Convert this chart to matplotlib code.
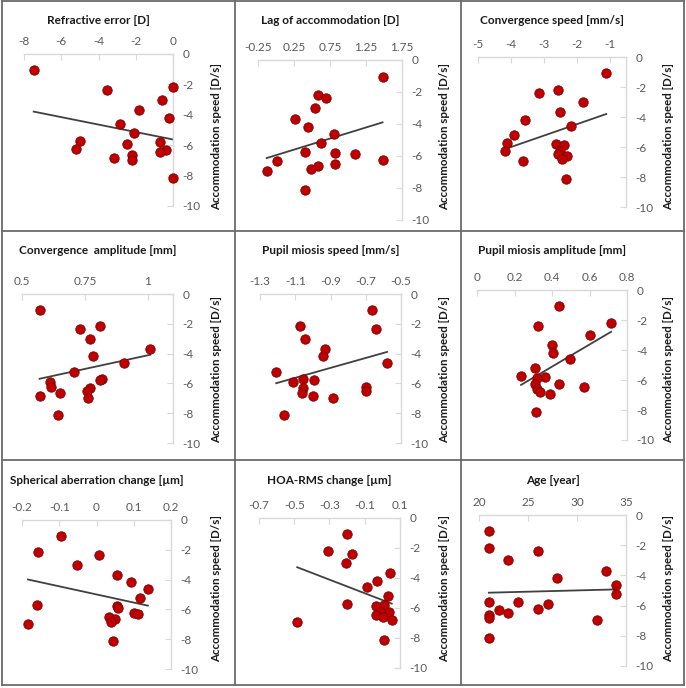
import numpy as np
import matplotlib
matplotlib.use("Agg")
import matplotlib.pyplot as plt
from matplotlib.lines import Line2D

plt.rcParams['font.family'] = ['Lato', 'DejaVu Sans']
plt.rcParams['axes.unicode_minus'] = False

W, H = 686, 688

# accommodation speed per subject [D/s], same order in every panel
speed = [-1.08, -2.17, -2.37, -3.00, -3.69, -4.18, -4.63, -5.21, -5.73,
         -5.79, -5.89, -6.25, -6.29, -6.48, -6.62, -6.82, -6.95, -8.13]

refractive_error = [-7.48, 0.0, -3.52, -0.57, -1.84, -0.20, -2.84, -2.09, -4.97,
                    -0.68, -2.49, -5.22, -0.38, -0.72, -2.22, -3.17, -2.22, 0.02]
lag_accommodation = [1.48, 0.58, 0.70, 0.54, 0.26, 0.44, 0.80, 0.62, 0.40,
                     0.82, 1.10, 1.48, 0.02, 0.82, 0.59, 0.48, -0.13, 0.40]
convergence_speed = [-1.10, -2.56, -3.15, -1.81, -2.52, -3.57, -2.17, -3.90, -4.12,
                     -2.62, -2.39, -4.19, -2.52, -2.58, -2.29, -2.46, -3.64, -2.32]
convergence_amplitude = [0.570, 0.810, 0.731, 0.772, 1.009, 0.784, 0.907, 0.708, 0.817,
                         0.808, 0.610, 0.614, 0.769, 0.758, 0.651, 0.573, 0.761, 0.643]
miosis_speed = [-0.664, -1.075, -0.640, -1.043, -0.930, -0.945, -0.579, -1.208, -1.055,
                -0.996, -1.113, -0.698, -1.055, -0.698, -1.062, -1.000, -0.883, -1.162]
miosis_amplitude = [0.439, 0.715, 0.326, 0.605, 0.402, 0.405, 0.496, 0.310, 0.235,
                    0.361, 0.322, 0.437, 0.308, 0.572, 0.319, 0.336, 0.391, 0.315]
sa_change = [-0.095, -0.158, 0.007, -0.052, 0.054, 0.092, 0.138, 0.116, -0.159,
             0.054, 0.059, 0.101, 0.112, 0.033, 0.050, 0.038, -0.184, 0.043]
hoa_change = [-0.199, -0.306, -0.171, -0.207, 0.042, -0.031, -0.085, 0.031, -0.203,
              0.008, -0.036, 0.038, -0.012, -0.036, 0.005, 0.053, -0.483, 0.008]
age = [21, 21, 26, 23, 33, 28, 34, 34, 21, 24, 27, 26, 22, 23, 21, 21, 32, 21]

titles = ["Refractive error [D]", "Lag of accommodation [D]", "Convergence speed [mm/s]",
          "Convergence  amplitude [mm]", "Pupil miosis speed [mm/s]", "Pupil miosis amplitude [mm]",
          "Spherical aberration change [\u00b5m]", "HOA-RMS change [\u00b5m]", "Age [year]"]
xvalues = [refractive_error, lag_accommodation, convergence_speed,
           convergence_amplitude, miosis_speed, miosis_amplitude,
           sa_change, hoa_change, age]
xlims = [(-8, 0), (-0.25, 1.75), (-5, -0.5), (0.5, 1.1), (-1.3, -0.5),
         (0, 0.8), (-0.2, 0.2), (-0.7, 0.1), (20, 35)]
xticks = [[-8, -6, -4, -2, 0], [-0.25, 0.25, 0.75, 1.25, 1.75], [-5, -4, -3, -2, -1],
          [0.5, 0.75, 1], [-1.3, -1.1, -0.9, -0.7, -0.5], [0, 0.2, 0.4, 0.6, 0.8],
          [-0.2, -0.1, 0, 0.1, 0.2], [-0.7, -0.5, -0.3, -0.1, 0.1], [20, 25, 30, 35]]
yticks = [0, -2, -4, -6, -8, -10]

# plot areas in pixels (left, top, right, bottom)
boxes = [(24, 54, 173, 206), (258, 60, 402, 220), (478, 57, 626, 207),
         (22, 294, 173, 443), (260, 294, 401, 443), (477, 290, 627, 440),
         (22, 520, 171, 669), (259, 518, 400, 668), (479, 515, 626, 666)]
title_y = [20, 250, 481]
ylabel_x = [217, 445, 669]
ylabel_y = [136, 370, 588]

fig = plt.figure(figsize=(W / 100, H / 100), dpi=100)

for i, (title, xs) in enumerate(zip(titles, xvalues)):
    L, T, R, B = boxes[i]
    ax = fig.add_axes([L / W, 1 - B / H, (R - L) / W, (B - T) / H])
    ax.set_xlim(*xlims[i])
    ax.set_ylim(-10, 0)

    ax.scatter(xs, speed, s=46, color='#c00000', edgecolor='#7a0000',
               linewidth=0.6, zorder=3, clip_on=False)
    k, b = np.polyfit(xs, speed, 1)
    xx = np.array([min(xs), max(xs)])
    ax.plot(xx, k * xx + b, color='#404040', lw=1.3, zorder=2)

    for side in ('left', 'bottom'):
        ax.spines[side].set_visible(False)
    for side in ('top', 'right'):
        ax.spines[side].set_color('#d9d9d9')
        ax.spines[side].set_linewidth(1.0)

    ax.xaxis.tick_top()
    ax.yaxis.tick_right()
    ax.set_xticks(xticks[i])
    ax.set_xticklabels([f"{v:g}" for v in xticks[i]])
    ax.set_yticks(yticks)
    ax.set_yticklabels([f"{v:g}" for v in yticks])
    ax.tick_params(axis='x', direction='in', length=4, color='#d9d9d9',
                   labelcolor='#595959', labelsize=8.5, pad=5)
    ax.tick_params(axis='y', direction='in', length=4, color='#d9d9d9',
                   labelcolor='#595959', labelsize=8.5, pad=7)

    row, col = divmod(i, 3)
    fig.text((L + R) / 2 / W, 1 - title_y[row] / H, title, ha='center', va='center',
             fontsize=8.5, fontweight='bold', color='#1a1a1a')
    fig.text(ylabel_x[col] / W, 1 - ylabel_y[row] / H, "Accommodation speed [D/s]",
             rotation=90, ha='center', va='center', fontsize=8.3,
             fontweight='bold', color='#1a1a1a')

# panel frame lines
xs_v = [2, 235, 461, 684]
ys_h = [1, 231, 460, 685]
for x in xs_v:
    fig.add_artist(Line2D([x / W, x / W], [1 - 1 / H, 1 - 685 / H],
                          color='#6b6b6b', lw=1.3))
for y in ys_h:
    fig.add_artist(Line2D([2 / W, 684 / W], [1 - y / H, 1 - y / H],
                          color='#6b6b6b', lw=1.3))

fig.savefig("out.png", dpi=100)
